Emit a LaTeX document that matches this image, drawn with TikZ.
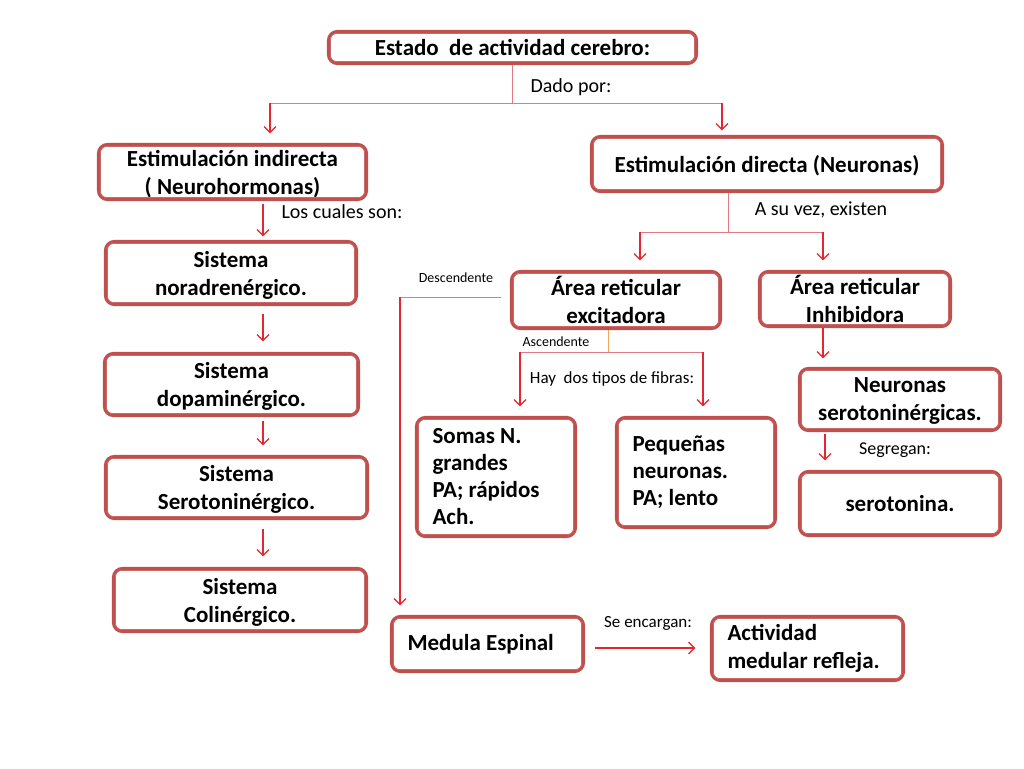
\documentclass[tikz,border=0pt]{standalone}
\usepackage{fontspec}
\setmainfont{Carlito}
\usetikzlibrary{arrows.meta}
\definecolor{boxred}{HTML}{C0504D}
\definecolor{arrred}{HTML}{E3262F}
\definecolor{stemred}{HTML}{E07A80}
\definecolor{stemorange}{HTML}{F2A65A}
\tikzset{
  boxbase/.style={draw=boxred, line width=3.2pt, rounded corners=9pt, fill=white, inner sep=0pt,
    font=\bfseries\fontsize{23}{28}\selectfont},
  box/.style={boxbase, align=flush center, text depth=0pt},
  lbox/.style={boxbase, align=flush left, inner xsep=16pt},
  innerline/.style={draw=boxred!85, line width=0.8pt, rounded corners=6pt},
  arr/.style={draw=arrred, line width=1.2pt, -{Straight Barb[length=6pt,width=12pt,line width=1.2pt]}},
  stem/.style={draw=stemred, line width=1pt},
  lab/.style={inner sep=0pt, font=\fontsize{20}{24}\selectfont},
  small/.style={inner sep=0pt, font=\fontsize{14}{17}\selectfont}
}
\begin{document}
\begin{tikzpicture}[x=1pt,y=-1pt]
\useasboundingbox[fill=white] (0,0) rectangle (1024,768);
% boxes
\node[box, minimum width=368, minimum height=32] (top) at (512.5,47.5) {Estado\ \ de actividad cerebro:};
\node[box, minimum width=268, minimum height=55] (indir) at (232.5,172) {Estimulación indirecta\\( Neurohormonas)};
\node[box, minimum width=351, minimum height=55] (dir) at (767,164) {Estimulación directa (Neuronas)};
\node[box, minimum width=251, minimum height=63] (nor) at (231,273) {Sistema\\noradrenérgico.};
\node[box, minimum width=254, minimum height=62] (dop) at (231.5,384.5) {Sistema\\dopaminérgico.};
\node[box, minimum width=262, minimum height=62] (ser) at (236.5,487.5) {Sistema\\Serotoninérgico.};
\node[box, minimum width=253, minimum height=63] (col) at (240,600) {Sistema\\Colinérgico.};
\node[box, minimum width=209, minimum height=57] (exc) at (616,300) {Área reticular\\excitadora};
\node[box, minimum width=191, minimum height=55] (inh) at (855,299) {Área reticular\\Inhibidora};
\node[lbox, font=\bfseries\fontsize{23}{27}\selectfont, text width=127, minimum height=119] (somas) at (496,477) {Somas N.\\grandes\\PA; rápidos\\Ach.};
\node[lbox, font=\bfseries\fontsize{23}{27}\selectfont, text width=127, minimum height=110] (peq) at (696,472.5) {Pequeñas\\neuronas.\\PA; lento};
\node[box, minimum width=201, minimum height=62] (neur) at (900,399.5) {Neuronas\\serotoninérgicas.};
\node[box, minimum width=201, minimum height=64] (sero) at (900,503.5) {serotonina.};
\node[lbox, text width=160, minimum height=55] (med) at (487.5,644) {Medula Espinal};
\node[lbox, text width=160, minimum height=64] (act) at (807.5,648.5) {Actividad\\medular refleja.};
% inner lines of the double borders
\foreach \n in {top,indir,dir,nor,dop,ser,col,exc,inh,somas,peq,neur,sero,med,act}
  \draw[innerline] ([shift={(3.6,3.6)}]\n.north west) rectangle ([shift={(-3.6,-3.6)}]\n.south east);
% labels
\node[lab] (l1) at (571,87) {Dado por:};
\node[lab] (l2) at (342,212) {Los cuales son:};
\node[lab] (l3) at (821,210) {A su vez, existen};
\node[small] (l4) at (456,278) {Descendente};
\node[small] (l5) at (556,342) {Ascendente};
\node[lab, font=\fontsize{17}{20}\selectfont] (l6) at (612,379) {Hay\ \ dos tipos de fibras:};
\node[lab, font=\fontsize{18}{21}\selectfont] (l7) at (895,450) {Segregan:};
\node[lab, font=\fontsize{17}{20}\selectfont] (l8) at (648,623) {Se encargan:};
% tree from top box
\coordinate (j1) at (512,103);
\coordinate (jl) at (270,103);
\coordinate (jr) at (722,103);
\draw[stem] (top.south -| j1) -- (j1);
\draw[stem] (jl) -- (jr);
\draw[arr, shorten >=9.5pt] (jl) -- (jl |- indir.north);
\draw[arr, shorten >=4.5pt] (jr) -- (jr |- dir.north);
% left column
\coordinate (cx) at (263,0);
\draw[arr, shorten <=2.5pt, shorten >=3.5pt] (indir.south -| cx) -- (nor.north -| cx);
\draw[arr, shorten <=7.5pt, shorten >=10.5pt] (nor.south -| cx) -- (dop.north -| cx);
\draw[arr, shorten <=3.5pt, shorten >=9.5pt] (dop.south -| cx) -- (ser.north -| cx);
\draw[arr, shorten <=8.5pt, shorten >=10.5pt] (ser.south -| cx) -- (col.north -| cx);
% from directa
\coordinate (j2) at (728,232);
\coordinate (jl2) at (640,232);
\coordinate (jr2) at (823,232);
\draw[stem] (dir.south -| j2) -- (j2);
\draw[stem] (jl2) -- (jr2);
\draw[arr, shorten >=9.5pt] (jl2) -- (jl2 |- exc.north);
\draw[arr, shorten >=9.5pt] (jr2) -- (jr2 |- inh.north);
% inhibidora chain
\draw[arr, shorten >=8.5pt] (inh.south -| jr2) -- (neur.north -| jr2);
\coordinate (cx2) at (825,0);
\draw[arr, shorten <=1.5pt, shorten >=9.5pt] (neur.south -| cx2) -- (sero.north -| cx2);
% ascendente
\coordinate (j3) at (608,352);
\coordinate (jl3) at (520,352);
\coordinate (jr3) at (703,352);
\draw[draw=stemorange, line width=1pt] (exc.south -| j3) -- (j3);
\draw[stem] (jl3) -- (jr3);
\draw[arr, shorten >=9.5pt] (jl3) -- (jl3 |- somas.north);
\draw[arr, shorten >=9.5pt] (jr3) -- (jr3 |- peq.north);
% descendente
\coordinate (d1) at (400,297);
\draw[stem, shorten <=8.5pt] (exc.west |- d1) -- (d1);
\draw[arr, shorten >=9.5pt] (d1) -- (d1 |- med.north);
% medula -> actividad
\coordinate (m1) at (0,648);
\draw[arr, shorten <=9.5pt, shorten >=14.5pt] (med.east |- m1) -- (act.west |- m1);
\end{tikzpicture}
\end{document}
